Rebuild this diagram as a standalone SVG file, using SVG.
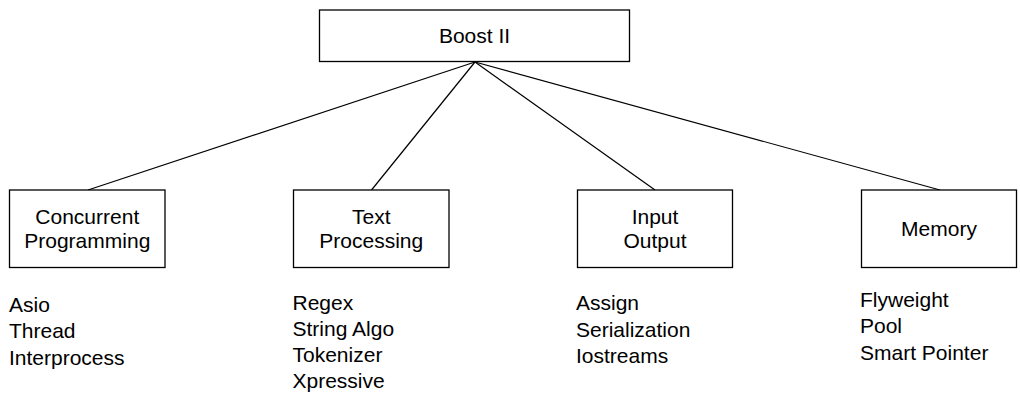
<svg xmlns="http://www.w3.org/2000/svg" width="1020" height="395" viewBox="0 0 1020 395">
  <style>
    .box { fill: #ffffff; stroke: #000000; stroke-width: 1.3; }
    .edge { stroke: #000000; stroke-width: 1.2; fill: none; }
    text { font-family: "Liberation Sans", Arial, sans-serif; font-size: 21px; fill: #000000; }
    .c { text-anchor: middle; }
  </style>
  <rect width="1020" height="395" fill="#ffffff"/>

  <!-- connectors from the root to each category -->
  <g id="connectors">
    <line class="edge" x1="475" y1="62" x2="88" y2="190"/>
    <line class="edge" x1="475" y1="62" x2="371.5" y2="190"/>
    <line class="edge" x1="475" y1="62" x2="655" y2="190"/>
    <line class="edge" x1="475" y1="62" x2="940" y2="190"/>
  </g>

  <g id="root">
    <rect class="box" x="319.5" y="10" width="310" height="51.5"/>
    <text class="c" x="474.5" y="43">Boost II</text>
  </g>

  <g id="concurrent">
    <rect class="box" x="9.5" y="190" width="155.5" height="77.5"/>
    <text class="c" x="87.3" y="224">Concurrent</text>
    <text class="c" x="87.3" y="248">Programming</text>
    <text x="9" y="311.5">Asio</text>
    <text x="9" y="338">Thread</text>
    <text x="9" y="364.5">Interprocess</text>
  </g>

  <g id="text-processing">
    <rect class="box" x="293.5" y="190" width="155.5" height="77.5"/>
    <text class="c" x="371.3" y="224">Text</text>
    <text class="c" x="371.3" y="248">Processing</text>
    <text x="292.5" y="309.5">Regex</text>
    <text x="292.5" y="335.5">String Algo</text>
    <text x="292.5" y="361.5">Tokenizer</text>
    <text x="292.5" y="387.5">Xpressive</text>
  </g>

  <g id="input-output">
    <rect class="box" x="577.5" y="190" width="155" height="77.5"/>
    <text class="c" x="655" y="224">Input</text>
    <text class="c" x="655" y="248">Output</text>
    <text x="576" y="310">Assign</text>
    <text x="576" y="336.5">Serialization</text>
    <text x="576" y="362.5">Iostreams</text>
  </g>

  <g id="memory">
    <rect class="box" x="861.5" y="190" width="155" height="77.5"/>
    <text class="c" x="939" y="235.5">Memory</text>
    <text x="860" y="306.5">Flyweight</text>
    <text x="860" y="333">Pool</text>
    <text x="860" y="359.5">Smart Pointer</text>
  </g>
</svg>
